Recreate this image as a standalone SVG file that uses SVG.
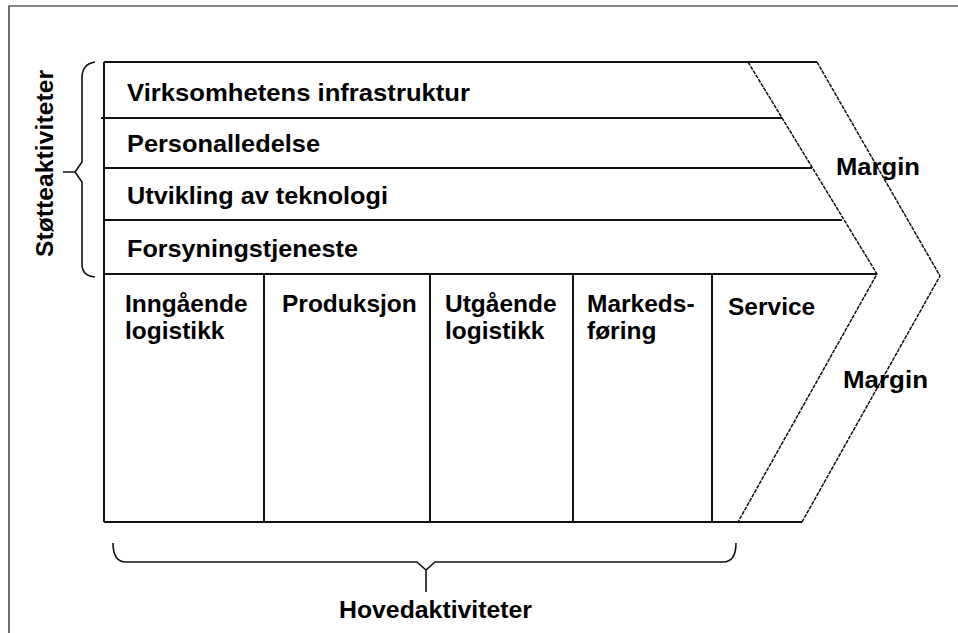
<svg xmlns="http://www.w3.org/2000/svg" width="958" height="633" viewBox="0 0 958 633">
<style>
.ln{stroke:#111;stroke-width:2;fill:none}
.dg{stroke:#111;stroke-width:1.5;fill:none;stroke-dasharray:4 1}
.fr{stroke:#111;stroke-width:1.2;fill:none}
.br{stroke:#111;stroke-width:1.6;fill:none}
text{font-family:"Liberation Sans",Arial,sans-serif;font-weight:bold;font-size:24.5px;fill:#000}
</style>
<rect x="0" y="0" width="958" height="633" fill="#fff"/>
<path class="fr" d="M9,633 V6 H958"/>
<g id="connectors">
<path class="ln" d="M104,62 H817 M101,118 H782 M104,168 H812 M104,220 H842 M104,274 H877 M104,522 H802 M104,62 V522 M264,274 V522 M430,274 V522 M573,274 V522 M712,274 V522"/>
<path class="dg" d="M748,62 L877,274 L738,522"/>
<path class="dg" d="M817,62 L940,276 L802,522"/>
</g>
<g id="support-brace">
<path class="br" d="M95,62 Q82,64 82,78 V162 L75,172 L82,182 V264 Q82,276 95,277 M75,172 H63"/>
<text transform="translate(53,163.5) rotate(-90)" text-anchor="middle" textLength="187">Støtteaktiviteter</text>
</g>
<g id="infrastruktur"><text x="127" y="101" textLength="343" lengthAdjust="spacingAndGlyphs">Virksomhetens infrastruktur</text></g>
<g id="personal"><text x="127" y="152" textLength="193" lengthAdjust="spacingAndGlyphs">Personalledelse</text></g>
<g id="teknologi"><text x="127" y="204" textLength="261" lengthAdjust="spacingAndGlyphs">Utvikling av teknologi</text></g>
<g id="forsyning"><text x="127" y="257" textLength="231" lengthAdjust="spacingAndGlyphs">Forsyningstjeneste</text></g>
<g id="inngaende"><text x="125" y="312">Inngående</text><text x="125" y="339">logistikk</text></g>
<g id="produksjon"><text x="282" y="312">Produksjon</text></g>
<g id="utgaende"><text x="445" y="312">Utgående</text><text x="445" y="339">logistikk</text></g>
<g id="markedsforing"><text x="587" y="312">Markeds-</text><text x="587" y="339">føring</text></g>
<g id="service"><text x="728" y="315">Service</text></g>
<g id="margin-top"><text x="836" y="175" textLength="84" lengthAdjust="spacingAndGlyphs">Margin</text></g>
<g id="margin-bottom"><text x="843" y="388" textLength="85" lengthAdjust="spacingAndGlyphs">Margin</text></g>
<g id="main-brace">
<path class="br" d="M113,543 Q113,562 126,562 H417 L426,570 L435,562 H723 Q736,562 736,543 M426,570 V592"/>
<text x="339" y="618" textLength="193" lengthAdjust="spacingAndGlyphs">Hovedaktiviteter</text>
</g>
</svg>
